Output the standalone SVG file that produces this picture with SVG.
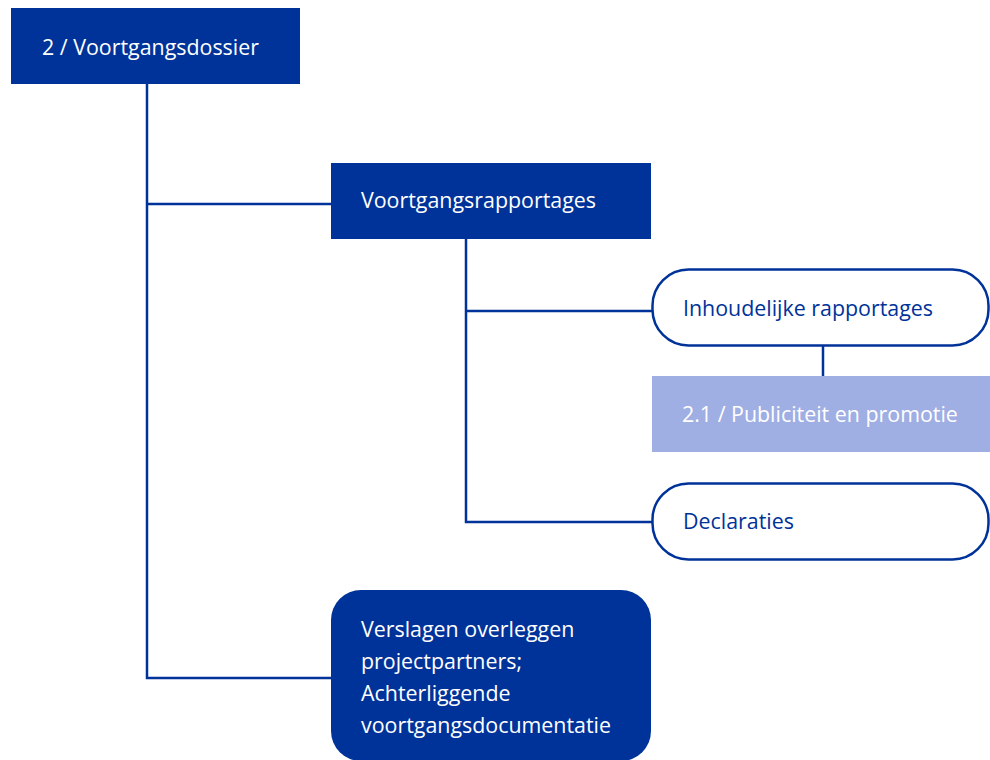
<svg xmlns="http://www.w3.org/2000/svg" width="990" height="760" viewBox="0 0 990 760">
<style>
.dark{fill:#003399}
.light{fill:#9FAEE3}
.out{fill:#ffffff;stroke:#003399;stroke-width:2.5}
.t{font-family:"Open Sans","Noto Sans",sans-serif;font-size:21.4px}
.w{fill:#ffffff}
.b{fill:#003399}
.c{fill:none;stroke:#003399;stroke-width:2.5}
</style>
<rect width="990" height="760" fill="#ffffff"/>
<g id="connectors">
<path class="c" d="M147 84 V678 H331"/>
<path class="c" d="M147 204 H331"/>
<path class="c" d="M466 239 V522 H652"/>
<path class="c" d="M466 311 H652"/>
<path class="c" d="M823 346 V376"/>
</g>
<g id="n1">
<rect class="dark" x="11" y="8" width="289" height="76"/>
<text class="t w" x="42" y="55">2 / Voortgangsdossier</text>
</g>
<g id="n2">
<rect class="dark" x="331" y="163" width="320" height="76"/>
<text class="t w" x="361" y="208">Voortgangsrapportages</text>
</g>
<g id="n3">
<rect class="out" x="652.5" y="269.5" width="336" height="76" rx="36"/>
<text class="t b" x="683" y="316">Inhoudelijke rapportages</text>
</g>
<g id="n4">
<rect class="light" x="652" y="376" width="338" height="76"/>
<text class="t w" x="682" y="422">2.1 / Publiciteit en promotie</text>
</g>
<g id="n5">
<rect class="out" x="652.5" y="483.5" width="336" height="76" rx="36"/>
<text class="t b" x="683" y="529">Declaraties</text>
</g>
<g id="n6">
<rect class="dark" x="331" y="590" width="320" height="171" rx="30"/>
<text class="t w" x="361" y="637">Verslagen overleggen</text>
<text class="t w" x="361" y="669">projectpartners;</text>
<text class="t w" x="361" y="701">Achterliggende</text>
<text class="t w" x="361" y="733">voortgangsdocumentatie</text>
</g>
</svg>
